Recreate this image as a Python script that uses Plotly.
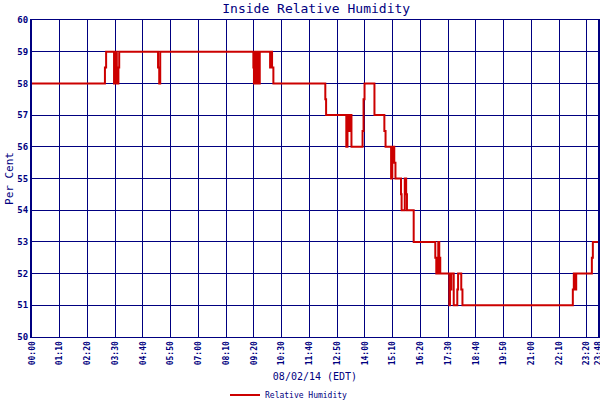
import plotly.graph_objects as go

# Minutes since 00:00 (08/02/14, EDT) at which the reading changes
minutes = [0, 184, 187, 207, 211.5, 214, 218, 220, 318, 321, 323.5,
           558.5, 560, 563.5, 566, 568, 573, 574.6, 600.7, 603, 605.7, 609,
           740, 742, 793, 796, 800, 803.5, 806, 834, 836.5, 839, 864,
           889, 892, 906, 909, 914, 917, 931, 932.5, 940.5, 944, 946, 963,
           1017.5, 1020, 1025, 1027.5, 1030, 1053, 1054.5, 1058, 1064,
           1073, 1075, 1083, 1086, 1364.5, 1367, 1370.5, 1373, 1412.5, 1415, 1428]
humidity = [58, 58.5, 59, 58, 59, 58, 58.5, 59, 58.5, 58, 59,
            58.5, 58, 59, 58, 59, 58, 59, 58.5, 59, 58.5, 58,
            57.5, 57, 56, 57, 56.5, 57, 56, 56.5, 57.5, 58, 57,
            56.5, 56, 55, 56, 55.5, 55, 54.5, 54, 55, 54.5, 54, 53,
            52.5, 52, 53, 52.5, 52, 51, 51.5, 52, 51,
            51.5, 52, 51.5, 51, 51.5, 52, 51.5, 52, 52.5, 53, 53]

tick_minutes = [0, 70, 140, 210, 280, 350, 420, 490, 560, 630, 700, 770,
                840, 910, 980, 1050, 1120, 1190, 1260, 1330, 1400, 1428]
tick_labels = ["00:00", "01:10", "02:20", "03:30", "04:40", "05:50", "07:00",
               "08:10", "09:20", "10:30", "11:40", "12:50", "14:00", "15:10",
               "16:20", "17:30", "18:40", "19:50", "21:00", "22:10", "23:20", "23:48"]
y_ticks = [50, 51, 52, 53, 54, 55, 56, 57, 58, 59, 60]

NAVY = "#000080"
MONO = "DejaVu Sans Mono"

fig = go.Figure()
fig.add_trace(go.Scatter(
    x=minutes, y=humidity, mode="lines", name="Relative Humidity",
    line=dict(color="#cc0000", width=2, shape="hv"),
))

fig.update_layout(
    width=600, height=400,
    margin=dict(l=32, r=2, t=20, b=63, autoexpand=False),
    paper_bgcolor="white", plot_bgcolor="white",
    title=dict(text="Inside Relative Humidity", x=0.527, xanchor="center",
               y=0.978, yanchor="middle", yref="container",
               font=dict(family=MONO, size=13, color=NAVY)),
    showlegend=True,
    legend=dict(orientation="h", x=0.341, xanchor="left", y=-0.183, yanchor="middle",
                font=dict(family=MONO, size=8, color=NAVY),
                itemwidth=30, bgcolor="rgba(0,0,0,0)"),
    font=dict(family=MONO, color=NAVY),
)

fig.update_xaxes(
    range=[0, 1428], tickvals=tick_minutes, ticktext=tick_labels, tickangle=-90,
    tickfont=dict(family=MONO, size=8, color=NAVY, weight="bold"),
    ticklabeloverflow="allow",
    showgrid=True, gridcolor=NAVY, gridwidth=1,
    showline=True, linecolor=NAVY, linewidth=1, mirror=True,
    zeroline=False, ticks="", automargin=False,
    title=dict(text="08/02/14 (EDT)", font=dict(family=MONO, size=10, color=NAVY),
               standoff=8),
)
fig.update_yaxes(
    range=[50, 60], tickvals=y_ticks,
    tickfont=dict(family=MONO, size=9, color=NAVY, weight="bold"),
    showgrid=True, gridcolor=NAVY, gridwidth=1,
    showline=True, linecolor=NAVY, linewidth=2, mirror=True,
    zeroline=False, ticks="", automargin=False,
    title=dict(text="Per Cent", font=dict(family=MONO, size=11, color=NAVY),
               standoff=2),
)

fig.write_html("out.html", config={"displayModeBar": False},
               post_script="document.body.style.margin='0';")
